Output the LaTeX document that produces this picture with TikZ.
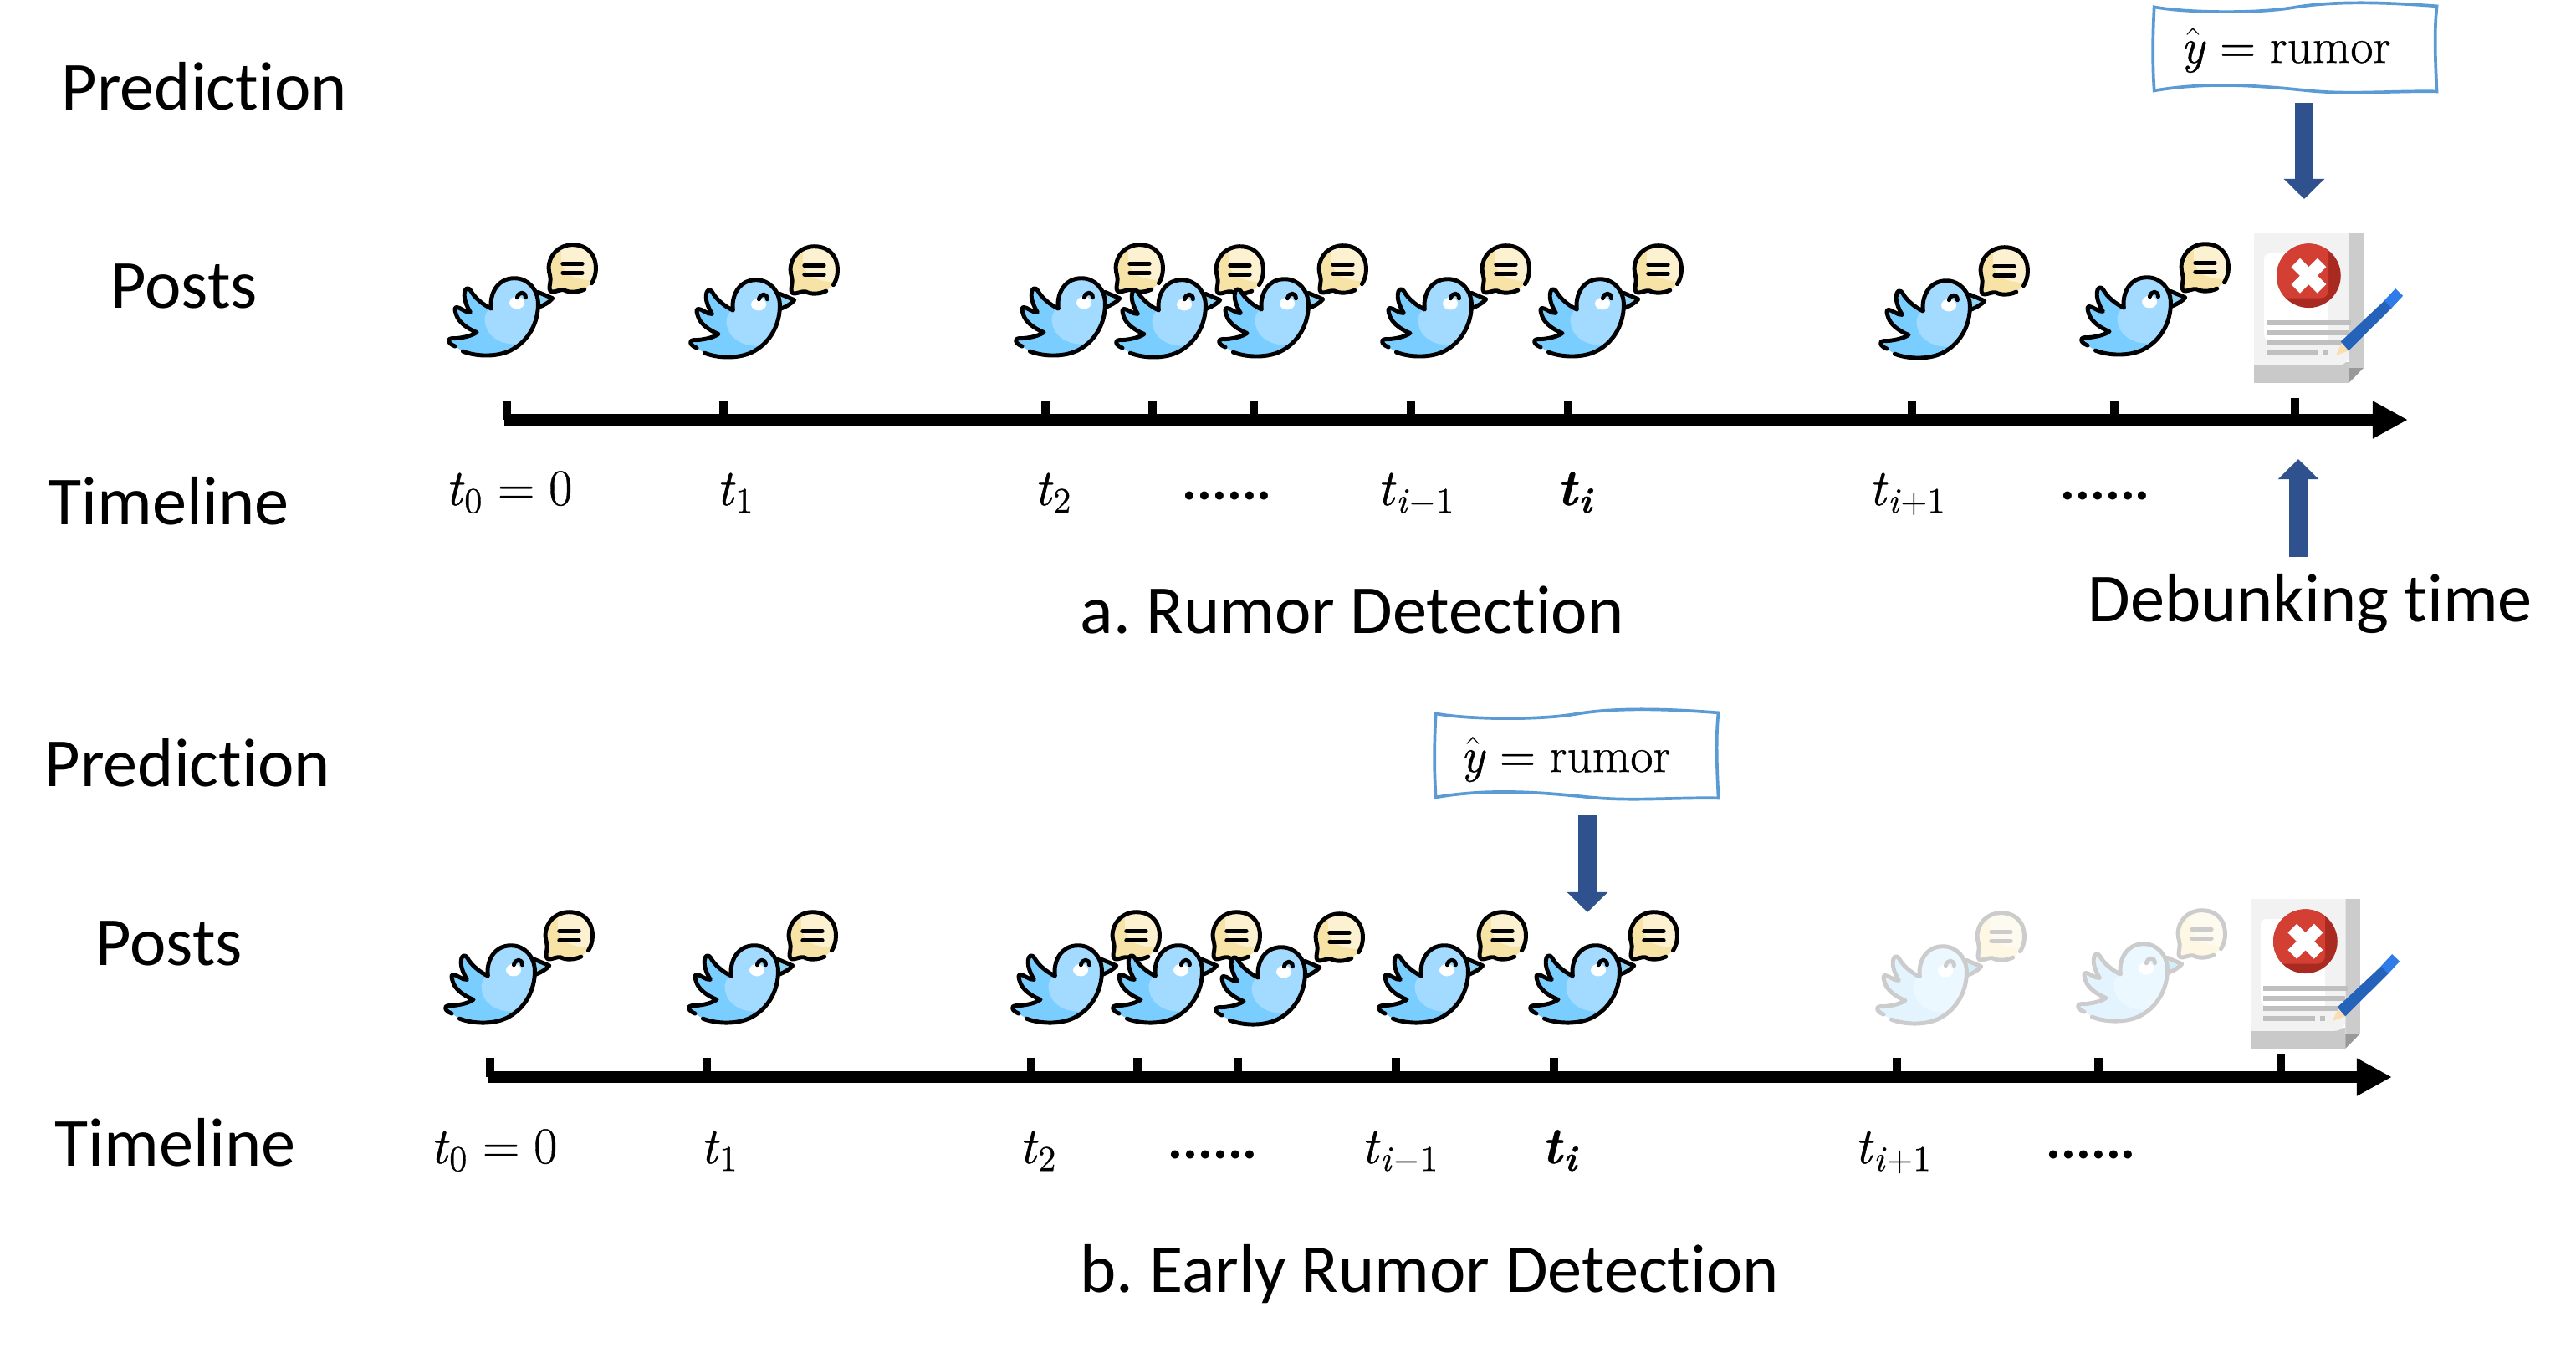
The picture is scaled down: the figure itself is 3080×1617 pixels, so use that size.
\documentclass[tikz,border=0pt]{standalone}
\usepackage{fontspec}
\usepackage{amsmath,bm}
\usetikzlibrary{arrows.meta}
\newfontfamily\calibrifont[Ligatures=NoCommon]{Carlito}
\newfontfamily\lmheavy[FakeBold=0.7]{Latin Modern Roman}
\newcommand\vi[1]{\text{\lmheavy\itshape #1\/}}
\newcommand\vr[1]{\text{\lmheavy #1}}
\newcommand\vb[1]{\text{\lmheavy\bfseries\itshape #1\/}}
\frenchspacing
\definecolor{birdline}{HTML}{000000}
\definecolor{birddark}{HTML}{7ACDFF}
\definecolor{birdlight}{HTML}{A2DBFF}
\definecolor{birdbeak}{HTML}{8FD3F5}
\definecolor{bubbledark}{HTML}{F8E3A6}
\definecolor{bubblelight}{HTML}{FCF2D2}
\definecolor{boxblue}{HTML}{5B9BD5}
\definecolor{arrowblue}{HTML}{2F528F}
\definecolor{redlight}{HTML}{D33F33}
\definecolor{reddark}{HTML}{A82A21}
\definecolor{penbody}{HTML}{2563BB}
\definecolor{penend}{HTML}{2F7BE8}
\definecolor{pentip}{HTML}{FBDDB0}
\def\birdbody{(132,462) .. controls (115,455) and (105,445) .. (112,436)
 .. controls (118,430) and (125,435) .. (140,433)
 .. controls (165,430) and (190,425) .. (210,412)
 .. controls (175,398) and (145,375) .. (137,350)
 .. controls (132,335) and (128,322) .. (138,322)
 .. controls (150,322) and (170,342) .. (187,340)
 .. controls (172,315) and (160,285) .. (168,262)
 .. controls (172,252) and (182,252) .. (188,262)
 .. controls (200,285) and (230,312) .. (262,327)
 .. controls (255,280) and (280,218) .. (345,218)
 .. controls (395,218) and (430,260) .. (430,310)
 .. controls (430,380) and (395,440) .. (340,472)
 .. controls (290,502) and (210,500) .. (160,480)}
\def\birdbubble{(622,236) .. controls (642,205) and (640,165) .. (628,140)
 .. controls (612,110) and (585,98) .. (553,98)
 .. controls (505,98) and (468,135) .. (468,182)
 .. controls (468,200) and (478,215) .. (473,235)
 .. controls (470,250) and (468,268) .. (482,267)
 .. controls (495,266) and (510,258) .. (522,260)
 .. controls (540,270) and (570,270) .. (596,258)}
\tikzset{
  birdoutline/.style={draw=birdline,line width=1.4pt,line cap=round,line join=round},
  picunits/.style={x=0.033333mm,y=-0.033333mm},
  tickmark/.style={line width=2.84pt},
  timeaxis/.style={line width=3.9pt,-{Triangle[length=11.95pt,width=11.95pt]}},
  bluearrow/.style={arrowblue,line width=6.26pt,-{Triangle[length=6.83pt,width=13.4pt]}},
  heading/.style={font=\calibrifont\fontsize{23.4}{28}\selectfont,anchor=base west,inner sep=0pt},
  timelabel/.style={font=\fontsize{17.5}{20}\selectfont,anchor=base west,inner sep=0pt},
  dotslabel/.style={font=\calibrifont\bfseries\fontsize{19}{22}\selectfont,anchor=base west,inner sep=0pt},
  rumorlabel/.style={font=\fontsize{16.8}{19}\selectfont,inner sep=0pt,minimum height=35.2pt},
  pics/bird/.style={code={
    \begin{scope}[picunits]
      \begin{scope}
        \clip \birdbody -- cycle;
        \fill[birddark] (100,200) rectangle (450,510);
        \fill[birdlight] (262,200) -- (262,327) .. controls (225,340) and (235,405) .. (270,430)
          .. controls (295,450) and (325,455) .. (355,455) -- (450,455) -- (450,200) -- cycle;
      \end{scope}
      \fill[birdbeak] (430,268) -- (482,290) .. controls (470,305) and (450,315) .. (432,322) -- cycle;
      \draw[birdoutline] \birdbody;
      \draw[birdoutline] (430,268) -- (482,290) .. controls (470,305) and (450,315) .. (432,322);
      \fill[white] (354,306) ellipse [x radius=27,y radius=22];
      \draw[birdoutline] (355,287) .. controls (360,265) and (385,265) .. (385,287);
      \begin{scope}
        \clip \birdbubble -- cycle;
        \fill[bubbledark] (450,90) rectangle (650,280);
        \fill[bubblelight] (515,90) .. controls (510,130) and (505,190) .. (550,210)
          .. controls (580,222) and (600,225) .. (650,228) -- (650,90) -- cycle;
      \end{scope}
      \draw[birdoutline] \birdbubble;
      \draw[birdoutline] (518,166) -- (588,166);
      \draw[birdoutline] (518,198) -- (588,198);
    \end{scope}}},
  pics/report/.style={code={
    \begin{scope}[picunits]
      \fill[black!20] (385,57) -- (437,57) -- (437,540) -- (385,593) -- cycle;
      \fill[black!21] (45,520) rectangle (385,593);
      \fill[black!40] (385,540) -- (437,540) -- (385,593) -- cycle;
      \fill[black!5] (45,57) -- (385,57) -- (385,490) .. controls (385,515) and (370,530) .. (345,530) -- (45,530) -- cycle;
      \fill[white] (100,129) -- (312,129) -- (312,440) -- (100,440) .. controls (90,440) and (81,431) .. (81,420) -- (81,148) .. controls (81,138) and (90,129) .. (100,129) -- cycle;
      \begin{scope}
        \clip (241,209) circle [radius=115];
        \fill[reddark] (100,80) rectangle (380,340);
        \fill[redlight] (100,80) -- (312,80) -- (312,260) .. controls (312,278) and (300,290) .. (280,290) -- (100,290) -- cycle;
      \end{scope}
      \draw[white,line width=4.27pt] (194,162) -- (288,256);
      \draw[white,line width=4.27pt] (288,162) -- (194,256);
      \fill[black!25] (90,370) rectangle (392,388);
      \fill[black!25] (90,406) rectangle (385,424);
      \fill[black!25] (90,442) rectangle (360,459);
      \fill[black!25] (90,477) rectangle (276,495);
      \fill[black!25] (294,477) rectangle (312,495);
      \fill[penbody] (356,445) -- (514,297) -- (540,323) -- (384,478) -- cycle;
      \fill[penend] (512,298) -- (552,255) -- (579,281) -- (538,325) -- cycle;
      \fill[pentip] (358,452) -- (384,478) -- (338,495) -- cycle;
    \end{scope}}},
  pics/wavybox/.style={code={
    \begin{scope}[picunits]
      \draw[boxblue,line width=1.05pt,line join=miter] (47,25)
        .. controls (150,45) and (400,50) .. (540,28)
        .. controls (700,0) and (900,10) .. (1060,22)
        .. controls (1050,120) and (1055,220) .. (1060,328)
        .. controls (900,325) and (750,340) .. (600,325)
        .. controls (450,310) and (250,290) .. (47,325)
        .. controls (40,220) and (42,120) .. (47,25) -- cycle;
    \end{scope}}}
}
\begin{document}
\begin{tikzpicture}[x=0.01cm,y=-0.01cm]
\useasboundingbox (0,0) rectangle (3080,1617);
\fill[white] (0,0) rectangle (3080,1617);
% --- panel a
\node[heading] (preda) at (73,131) {Prediction};
\node[heading] (postsa) at (132,368) {Posts};
\node[heading] (timea) at (57,627) {Timeline};
\node[heading] (capa) at (1291,757) {a. Rumor Detection};
\node[heading] (debunk) at (2496,743) {Debunking time};
\foreach \x/\y in {500/260,789/262,1178/260,1298/262,1421/261,1616/261,1798/261,2212/263,2452/259}
  \path (\x,\y) pic {bird};
\path (2680,260) pic {report};
\coordinate (a0) at (603,502);
\coordinate (a1) at (2879,502);
\foreach \x in {606,865,1250,1378,1499,1687,1875,2286,2528}
  \draw[tickmark] (\x,479) -- (\x,502);
\draw[tickmark] (2744,476) -- (2744,502);
\draw[timeaxis] (a0) -- (a1);
\node[timelabel] (ta0) at (532,604) {$\vi{t}_{\vr{0}}\mathrel{\vr{=}}\vr{0}$};
\node[timelabel] (ta1) at (856,604) {$\vi{t}_{\vr{1}}$};
\node[timelabel] (ta2) at (1236,604) {$\vi{t}_{\vr{2}}$};
\node[dotslabel] (tad1) at (1413,597) {......};
\node[timelabel] (ta3) at (1646,604) {$\vi{t}_{\vi{i}-\vr{1}}$};
\node[timelabel] (ta4) at (1861,604) {$\vb{t}_{\vb{i}}$};
\node[timelabel] (ta5) at (2234,604) {$\vi{t}_{\vi{i}+\vr{1}}$};
\node[dotslabel] (tad2) at (2463,597) {......};
\path (2560,0) pic {wavybox};
\node[rumorlabel] (boxa) at (2733,60) {$\hat{\vi{y}}\mathrel{\vr{=}}\vr{rumor}$};
\coordinate (pa) at (2755,238);
\draw[bluearrow] (boxa.south -| pa) -- (pa);
\coordinate (da0) at (2748,666);
\coordinate (da1) at (2748,549);
\draw[bluearrow] (da0) -- (da1);
% --- panel b
\node[heading] (predb) at (53,940) {Prediction};
\node[heading] (postsb) at (114,1154) {Posts};
\node[heading] (timeb) at (65,1394) {Timeline};
\node[heading] (capb) at (1291,1545) {b. Early Rumor Detection};
\foreach \x/\y in {496/1058,787/1058,1174/1058,1294/1058,1417/1060,1612/1058,1793/1058}
  \path (\x,\y) pic {bird};
\begin{scope}
  \definecolor{birdline}{HTML}{CCCCCC}
  \definecolor{birddark}{HTML}{E3F4FF}
  \definecolor{birdlight}{HTML}{ECF8FF}
  \definecolor{birdbeak}{HTML}{D5EEFB}
  \definecolor{bubbledark}{HTML}{FDF7E4}
  \definecolor{bubblelight}{HTML}{FDFAF0}
  \foreach \x/\y in {2208/1059,2448/1056}
    \path (\x,\y) pic {bird};
\end{scope}
\path (2676,1056) pic {report};
\coordinate (b0) at (583,1288);
\coordinate (b1) at (2860,1288);
\foreach \x in {586,845,1233,1360,1480,1669,1858,2268,2509}
  \draw[tickmark] (\x,1265) -- (\x,1288);
\draw[tickmark] (2727,1260) -- (2727,1288);
\draw[timeaxis] (b0) -- (b1);
\node[timelabel] (tb0) at (514,1391) {$\vi{t}_{\vr{0}}\mathrel{\vr{=}}\vr{0}$};
\node[timelabel] (tb1) at (837,1391) {$\vi{t}_{\vr{1}}$};
\node[timelabel] (tb2) at (1218,1391) {$\vi{t}_{\vr{2}}$};
\node[dotslabel] (tbd1) at (1396,1385) {......};
\node[timelabel] (tb3) at (1627,1391) {$\vi{t}_{\vi{i}-\vr{1}}$};
\node[timelabel] (tb4) at (1843,1391) {$\vb{t}_{\vb{i}}$};
\node[timelabel] (tb5) at (2217,1391) {$\vi{t}_{\vi{i}+\vr{1}}$};
\node[dotslabel] (tbd2) at (2446,1385) {......};
\path (1701,845) pic {wavybox};
\node[rumorlabel] (boxb) at (1872,908) {$\hat{\vi{y}}\mathrel{\vr{=}}\vr{rumor}$};
\coordinate (pb) at (1898,1091);
\coordinate (pbs) at (1898,975);
\draw[bluearrow] (pbs) -- (pb);
\end{tikzpicture}
\end{document}
